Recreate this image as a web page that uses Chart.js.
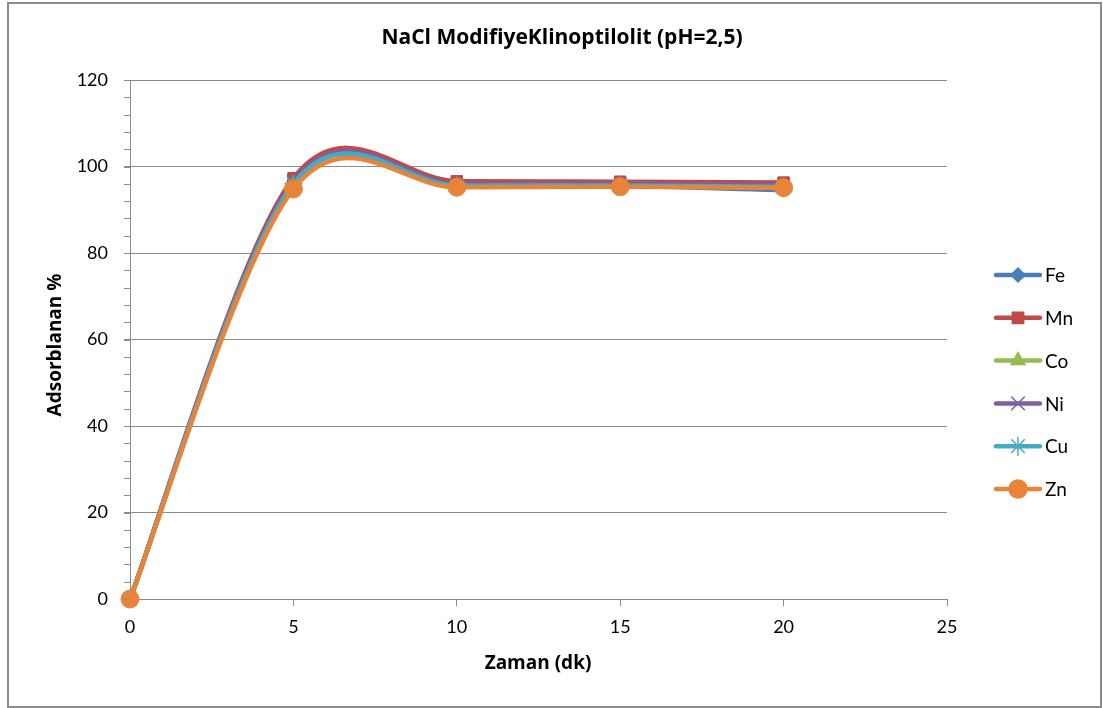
<!DOCTYPE html>
<html>
<head>
<meta charset="utf-8">
<script src="https://cdn.jsdelivr.net/npm/chart.js@4"></script>
<style>
    html, body { margin: 0; padding: 0; background: #fff; }
    #wrap { width: 1103px; height: 708px; }
</style>
</head>
<body>
<div id="wrap"><canvas id="myChart" width="1103" height="708"></canvas></div>
<script>
// zaman (dk) ve her metal için adsorplanan %
const zaman = [0, 5, 10, 15, 20];
const metals = ['Fe', 'Mn', 'Co', 'Ni', 'Cu', 'Zn'];
const fe = [0, 96.5, 95.5, 95.5, 94.5];
const mn = [0, 97.3, 96.6, 96.5, 96.3];
const co = [0, 96.0, 95.5, 95.5, 95.0];
const ni = [0, 96.5, 96.0, 96.0, 95.8];
const cu = [0, 96.0, 95.6, 95.6, 95.3];
const zn = [0, 94.8, 95.2, 95.3, 95.1];
const xTicks = [0, 5, 10, 15, 20, 25];
const yTicks = [0, 20, 40, 60, 80, 100, 120];

const colors = ['#4a7ebb', '#be4b48', '#98b954', '#7d60a0', '#46aac5', '#e8843a'];
const shapes = ['rectRot', 'rect', 'triangle', 'crossRot', 'star', 'circle'];
const radii = [7, 8, 8, 9, 9, 9];
const series = [fe, mn, co, ni, cu, zn];

const font = "Lato, 'Open Sans', sans-serif";
const titleFont = "'Open Sans', Lato, sans-serif";
let ctx = document.getElementById('myChart').getContext('2d');

function points(vals) {
    return vals.map((v, i) => ({ x: zaman[i], y: v }));
}

let datasets = metals.map((m, i) => ({
    label: m,
    data: points(series[i]),
    borderColor: colors[i],
    backgroundColor: colors[i],
    borderWidth: 4.5,
    pointStyle: shapes[i],
    pointRadius: radii[i],
    pointBorderWidth: (shapes[i] == 'crossRot' || shapes[i] == 'star') ? 1.5 : 1,
    pointBorderColor: colors[i],
    tension: 0.4,
    clip: false,
    order: metals.length - i
}));

// excel'in düzgün çizgisi: catmull-rom kontrol noktaları (komşu farkının 1/6'sı)
const smooth = {
    id: 'smooth',
    beforeDatasetsDraw(chart) {
        chart.getSortedVisibleDatasetMetas().forEach(meta => {
            meta.dataset.updateControlPoints(chart.chartArea);
            const pts = meta.data;
            for (let i = 0; i < pts.length; i++) {
                const p = pts[i];
                const prev = pts[Math.max(i - 1, 0)];
                const next = pts[Math.min(i + 1, pts.length - 1)];
                const dx = (next.x - prev.x) / 6;
                const dy = (next.y - prev.y) / 6;
                p.cp1x = p.x - dx; p.cp1y = p.y - dy;
                p.cp2x = p.x + dx; p.cp2y = p.y + dy;
            }
        });
    }
};

// excel tarzı lejant, başlıklar ve çerçeve
const extras = {
    id: 'extras',
    afterDraw(chart) {
        const c = chart.ctx;
        c.save();
        c.strokeStyle = '#8c8c8c';
        c.lineWidth = 2;
        c.strokeRect(8, 3, 1093, 704);

        // ara çentikler (y ekseni)
        const ys = chart.scales.y;
        c.lineWidth = 1;
        for (let v = 0; v <= 120; v += 4) {
            const py = Math.round(ys.getPixelForValue(v)) + 0.5;
            c.beginPath();
            c.moveTo(ys.right - 6, py);
            c.lineTo(ys.right, py);
            c.stroke();
        }

        c.fillStyle = '#000';
        c.textAlign = 'center';
        c.textBaseline = 'middle';
        c.font = 'bold 21px ' + titleFont;
        c.fillText('NaCl ModifiyeKlinoptilolit (pH=2,5)', 562, 38);
        c.font = 'bold 19px ' + titleFont;
        c.fillText('Zaman (dk)', 538, 664);
        c.save();
        c.translate(56, 345);
        c.rotate(-Math.PI / 2);
        c.fillText('Adsorblanan %', 0, 0);
        c.restore();

        c.textAlign = 'left';
        metals.forEach((m, i) => {
            const y = 275 + i * 42.8;
            c.strokeStyle = colors[i];
            c.lineWidth = 4.5;
            c.lineCap = 'round';
            c.beginPath();
            c.moveTo(996, y);
            c.lineTo(1040, y);
            c.stroke();
            c.fillStyle = colors[i];
            c.lineWidth = 1.5;
            Chart.helpers.drawPoint(c, { pointStyle: shapes[i], radius: radii[i], rotation: 0, borderWidth: 1.5 }, 1018, y);
            c.fillStyle = '#000';
            c.font = '19px ' + font;
            c.fillText(m, 1045, y + 1);
        });
        c.restore();
    }
};

new Chart(ctx, {
    type: 'line',
    data: { datasets: datasets },
    options: {
        responsive: false,
        animation: false,
        layout: { padding: { top: 80, right: 156, bottom: 0, left: 0 } },
        plugins: {
            legend: { display: false },
            tooltip: { enabled: false },
            title: { display: false }
        },
        scales: {
            x: {
                type: 'linear',
                min: 0, max: 25,
                afterBuildTicks: s => { s.ticks = xTicks.map(v => ({ value: v })); },
                afterFit: s => { s.height = 109; },
                grid: { display: true, drawOnChartArea: false, tickLength: 7, tickColor: '#8c8c8c' },
                border: { color: '#8c8c8c', width: 1 },
                ticks: { color: '#000', font: { family: font, size: 18 }, padding: 10 }
            },
            y: {
                min: 0, max: 120,
                afterBuildTicks: s => { s.ticks = yTicks.map(v => ({ value: v })); },
                afterFit: s => { s.width = 130; },
                grid: { color: '#8c8c8c', tickLength: 6, tickColor: '#8c8c8c' },
                border: { color: '#8c8c8c', width: 1 },
                ticks: { color: '#000', font: { family: font, size: 18 }, padding: 16 }
            }
        }
    },
    plugins: [smooth, extras]
});
</script>
</body>
</html>
